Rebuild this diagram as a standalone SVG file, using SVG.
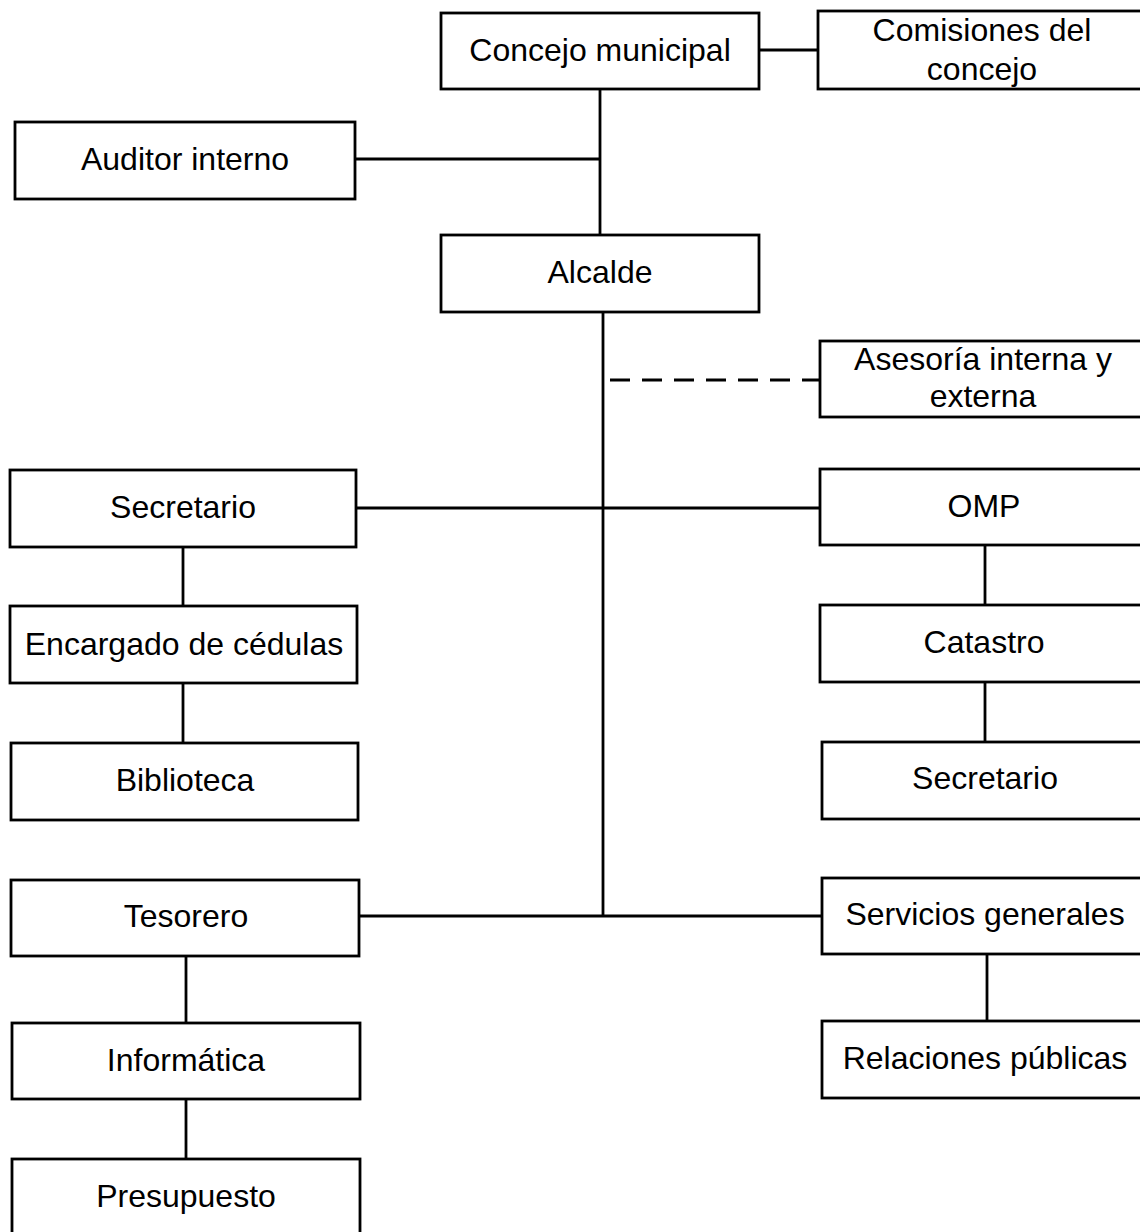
<svg xmlns="http://www.w3.org/2000/svg" width="1140" height="1232" viewBox="0 0 1140 1232">
<style>
.box{fill:#fff;stroke:#000;stroke-width:2.8}
.ln{stroke:#000;stroke-width:2.8;fill:none}
.dash{stroke:#000;stroke-width:2.8;fill:none;stroke-dasharray:20 12}
text{font-family:"Liberation Sans",Arial,sans-serif;font-size:32px;fill:#000;text-anchor:middle;dominant-baseline:central}
</style>
<rect width="1140" height="1232" fill="#fff"/>
<g id="connectors">
<line class="ln" x1="759" y1="50" x2="818" y2="50"/>
<line class="ln" x1="600" y1="89" x2="600" y2="235"/>
<line class="ln" x1="355" y1="159" x2="600" y2="159"/>
<line class="ln" x1="603" y1="312" x2="603" y2="916"/>
<line class="dash" x1="610" y1="380" x2="820" y2="380"/>
<line class="ln" x1="356" y1="508" x2="820" y2="508"/>
<line class="ln" x1="183" y1="547" x2="183" y2="606"/>
<line class="ln" x1="183" y1="683" x2="183" y2="743"/>
<line class="ln" x1="985" y1="545" x2="985" y2="605"/>
<line class="ln" x1="985" y1="682" x2="985" y2="742"/>
<line class="ln" x1="359" y1="916" x2="822" y2="916"/>
<line class="ln" x1="186" y1="956" x2="186" y2="1023"/>
<line class="ln" x1="186" y1="1099" x2="186" y2="1159"/>
<line class="ln" x1="987" y1="954" x2="987" y2="1021"/>
</g>
<g id="n-concejo"><rect class="box" x="441" y="13" width="318" height="76"/><text x="600" y="50">Concejo municipal</text></g>
<g id="n-comisiones"><rect class="box" x="818" y="11" width="330" height="78"/><text x="982" y="30">Comisiones del</text><text x="982" y="69">concejo</text></g>
<g id="n-auditor"><rect class="box" x="15" y="122" width="340" height="77"/><text x="185" y="159">Auditor interno</text></g>
<g id="n-alcalde"><rect class="box" x="441" y="235" width="318" height="77"/><text x="600" y="272">Alcalde</text></g>
<g id="n-asesoria"><rect class="box" x="820" y="341" width="330" height="76"/><text x="983" y="359">Asesoría interna y</text><text x="983" y="396">externa</text></g>
<g id="n-secretario-l"><rect class="box" x="10" y="470" width="346" height="77"/><text x="183" y="507">Secretario</text></g>
<g id="n-omp"><rect class="box" x="820" y="469" width="330" height="76"/><text x="984" y="506">OMP</text></g>
<g id="n-cedulas"><rect class="box" x="10" y="606" width="347" height="77"/><text x="184" y="644">Encargado de cédulas</text></g>
<g id="n-biblioteca"><rect class="box" x="11" y="743" width="347" height="77"/><text x="185" y="780">Biblioteca</text></g>
<g id="n-catastro"><rect class="box" x="820" y="605" width="330" height="77"/><text x="984" y="642">Catastro</text></g>
<g id="n-secretario-r"><rect class="box" x="822" y="742" width="330" height="77"/><text x="985" y="778">Secretario</text></g>
<g id="n-tesorero"><rect class="box" x="11" y="880" width="348" height="76"/><text x="186" y="916">Tesorero</text></g>
<g id="n-servicios"><rect class="box" x="822" y="878" width="330" height="76"/><text x="985" y="914">Servicios generales</text></g>
<g id="n-informatica"><rect class="box" x="12" y="1023" width="348" height="76"/><text x="186" y="1060">Informática</text></g>
<g id="n-presupuesto"><rect class="box" x="12" y="1159" width="348" height="80"/><text x="186" y="1196">Presupuesto</text></g>
<g id="n-relaciones"><rect class="box" x="822" y="1021" width="330" height="77"/><text x="985" y="1058">Relaciones públicas</text></g>
</svg>
